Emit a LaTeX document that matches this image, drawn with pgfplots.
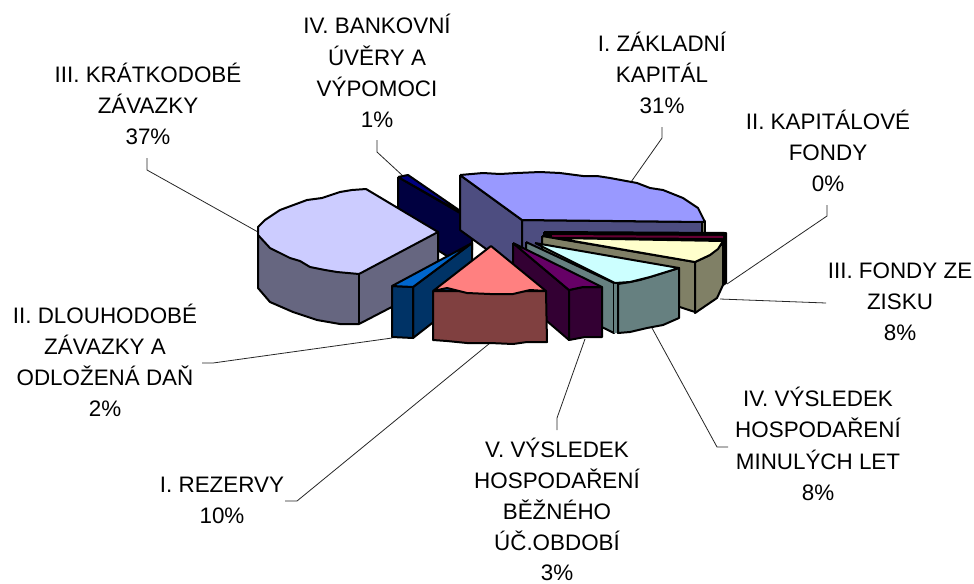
\documentclass[border=0pt]{standalone}
\usepackage{fontspec}
\setmainfont{Liberation Sans}
\usepackage{pgfplots}
\pgfplotsset{compat=1.18}
\definecolor{cLight}{HTML}{CCCCFF}\definecolor{sLight}{HTML}{666680}
\definecolor{cNavy}{HTML}{000080}\definecolor{sNavy}{HTML}{000040}
\definecolor{cPeri}{HTML}{9999FF}\definecolor{sPeri}{HTML}{4D4D80}
\definecolor{cBlue}{HTML}{0066CC}\definecolor{sBlue}{HTML}{003366}
\definecolor{cRed}{HTML}{FF8080}\definecolor{sRed}{HTML}{804040}
\definecolor{cPurp}{HTML}{660066}\definecolor{sPurp}{HTML}{330033}
\definecolor{cCyan}{HTML}{CCFFFF}\definecolor{sCyan}{HTML}{668080}
\definecolor{cYell}{HTML}{FFFFCC}\definecolor{sYell}{HTML}{808066}
\definecolor{cWine}{HTML}{660033}
\newcommand{\lab}[3]{\node[anchor=base,inner sep=0pt,font=\fontsize{16.8}{18}\selectfont] at (axis cs:#1,#2) {#3};}
\pgfplotsset{
  face/.style={draw=black,line width=1.5pt,line join=round,no markers,fill=#1},
  leader/.style={draw=black!85,line width=0.6pt,no markers}
}
\begin{document}
\begin{tikzpicture}
\path[use as bounding box] (0,0) rectangle (730.5pt,437.25pt);
\begin{axis}[at={(0,0)},anchor=south west,hide axis,scale only axis,width=730.5pt,height=437.25pt,
  xmin=0,xmax=974,ymin=0,ymax=583,y dir=reverse,clip=false]
% leader lines
\addplot[leader] coordinates {(147,158)(147,170)(258,232)};
\addplot[leader] coordinates {(377,140)(377,152)(403,176)};
\addplot[leader] coordinates {(662,127)(662,138)(631,182)};
\addplot[leader] coordinates {(827,205)(827,216)(727,284)};
\addplot[leader] coordinates {(826,303)(720,299)};
\addplot[leader] coordinates {(728,447)(717,447)(652,328)};
\addplot[leader] coordinates {(557,430)(557,418)(585,339)};
\addplot[leader] coordinates {(285,501)(297,501)(490,343)};
\addplot[leader] coordinates {(202,363)(213,363)(392,338)};
% IV. bankovni uvery
\addplot[face=sNavy] coordinates {(398,177)(472,220)(472,250)(447,256)(398,225)(398,177)};
\addplot[face=cNavy] coordinates {(398,177)(408,175)(472,219)(398,177)};
% I. zakladni kapital
\addplot[face=sPeri] coordinates {(460,175)(522,220)(522,275)(460,230)(460,175)};
\addplot[face=sPeri] coordinates {(522,220)(702,222)(702,275)(522,275)(522,220)};
\addplot[face=sYell] coordinates {(702,221)(705,221)(705,236)(702,236)(702,221)};
\addplot[face=cPeri] coordinates {(460,175)(483,173)(500,174)(517,173)(540,172)(560,173)(583,176)(597,176)(610,178)(637,183)(650,188)(663,190)(683,198)(698,208)(704,220)(705,222)(522,220)(460,175)};
% III. kratkodobe zavazky
\addplot[face=sLight] coordinates {(258,235)(258,288)(270,302)(293,312)(317,320)(340,324)(359,324)(438,283)(438,232)(258,235)};
\addplot[draw=black,line width=1pt,no markers] coordinates {(359,274)(359,324)};
\addplot[face=cLight] coordinates {(438,232)(366,189)(352,190)(340,192)(322,198)(307,200)(280,210)(265,220)(258,227)(258,235)(270,248)(290,258)(300,261)(310,267)(325,270)(337,272)(359,274)(438,232)};
% II. kapitalove fondy
\addplot[face=black] coordinates {(544,232)(726,233)(726,283)(723,285)(544,240)(544,232)};
\addplot[draw=none,fill=cWine,no markers] coordinates {(552,235)(723,236)(723,238)(552,237)(552,235)};
% III. fondy ze zisku
\addplot[face=sYell] coordinates {(542,236)(695,262)(695,312)(542,262)(542,236)};
\addplot[face=sYell] coordinates {(695,262)(710,255)(723,243)(723,285)(717,298)(695,313)(695,262)};
\addplot[draw=black,line width=2.2pt,no markers] coordinates {(695,262)(695,312)};
\addplot[face=cYell] coordinates {(556,238)(723,241)(718,249)(710,255)(695,262)(556,238)};
% IV. vysledek minulych let
\addplot[face=sCyan] coordinates {(526,242)(614,283)(614,333)(526,290)(526,242)};
\addplot[draw=none,fill=sCyan,no markers] coordinates {(614,283)(618,283)(618,333)(614,333)(614,283)};
\addplot[face=sCyan] coordinates {(618,284)(630,282)(640,280)(650,277)(679,268)(679,318)(663,325)(647,328)(630,332)(618,333)(618,284)};
\addplot[face=cCyan] coordinates {(535,243)(615,283)(630,282)(650,277)(679,268)(535,243)};
% V. vysledek bezneho obdobi
\addplot[face=sPurp] coordinates {(513,243)(569,290)(569,340)(513,292)(513,243)};
\addplot[face=sPurp] coordinates {(569,290)(583,287)(602,287)(602,337)(585,337)(569,340)(569,290)};
\addplot[face=cPurp] coordinates {(513,243)(569,290)(583,287)(602,287)(513,243)};
% II. dlouhodobe zavazky
\addplot[face=sBlue] coordinates {(413,287)(472,243)(472,292)(413,338)(413,287)};
\addplot[face=sBlue] coordinates {(392,286)(413,287)(413,338)(392,337)(392,286)};
\addplot[face=cBlue] coordinates {(472,243)(392,286)(413,287)(472,243)};
% I. rezervy
\addplot[face=sRed] coordinates {(433,291)(546,291)(547,342)(527,342)(513,344)(490,343)(467,343)(447,341)(433,340)(433,291)};
\addplot[face=cRed] coordinates {(491,246)(433,291)(447,288)(467,293)(490,294)(513,294)(530,290)(546,291)(491,246)};
% labels
\lab{148}{82}{III. KRÁTKODOBÉ}\lab{148}{113}{ZÁVAZKY}\lab{148}{144}{37\%}
\lab{377}{33.5}{IV. BANKOVNÍ}\lab{377}{65}{ÚVĚRY A}\lab{377}{96}{VÝPOMOCI}\lab{377}{127}{1\%}
\lab{662}{51}{I. ZÁKLADNÍ}\lab{662}{82}{KAPITÁL}\lab{662}{113}{31\%}
\lab{828}{129}{II. KAPITÁLOVÉ}\lab{828}{160}{FONDY}\lab{828}{191}{0\%}
\lab{900}{278}{III. FONDY ZE}\lab{900}{309}{ZISKU}\lab{900}{340}{8\%}
\lab{818}{406}{IV. VÝSLEDEK}\lab{818}{437}{HOSPODAŘENÍ}\lab{818}{469}{MINULÝCH LET}\lab{818}{500}{8\%}
\lab{557}{457}{V. VÝSLEDEK}\lab{557}{488}{HOSPODAŘENÍ}\lab{557}{519}{BĚŽNÉHO}\lab{557}{550}{ÚČ.OBDOBÍ}\lab{557}{580}{3\%}
\lab{105}{323}{II. DLOUHODOBÉ}\lab{105}{354}{ZÁVAZKY A}\lab{105}{385}{ODLOŽENÁ DAŇ}\lab{105}{416}{2\%}
\lab{222}{492}{I. REZERVY}\lab{222}{523}{10\%}
\end{axis}
\end{tikzpicture}
\end{document}
